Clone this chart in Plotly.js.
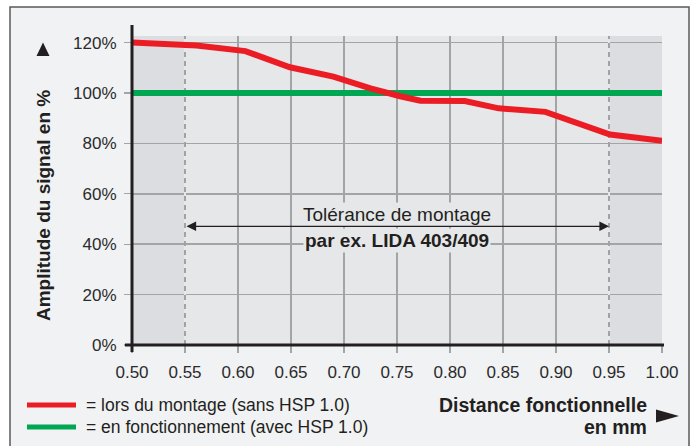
<!DOCTYPE html>
<html>
<head>
<meta charset="utf-8">
<script src="https://cdn.plot.ly/plotly-3.0.1.min.js"></script>
<style>
  html, body { margin: 0; padding: 0; background: #ffffff; }
  #chart { width: 694px; height: 446px; }
</style>
</head>
<body>
<div id="chart"></div>
<script>
// ---- Data ----
var distanceMontage = [0.50, 0.55, 0.561, 0.607, 0.649, 0.690, 0.725, 0.753, 0.772, 0.814, 0.846, 0.890, 0.951, 1.00];
var amplitudeMontage = [120.0, 119.4, 118.8, 116.6, 110.2, 106.5, 101.8, 98.7, 96.9, 96.8, 93.9, 92.5, 83.5, 81.0];
var distanceFonction = [0.50, 1.00];
var amplitudeFonction = [100, 100];
var xTickValues = [0.50, 0.55, 0.60, 0.65, 0.70, 0.75, 0.80, 0.85, 0.90, 0.95, 1.00];
var yTickValues = [0, 20, 40, 60, 80, 100, 120];
var yTickLabels = ["0%", "20%", "40%", "60%", "80%", "100%", "120%"];
var toleranceRange = [0.55, 0.95];
var seriesNames = ["= lors du montage (sans HSP 1.0)", "= en fonctionnement (avec HSP 1.0)"];
var toleranceLabel = "Tolérance de montage";
var toleranceExample = "par ex. LIDA 403/409";
var yTitle = "Amplitude du signal en %";
var xTitleLines = ["Distance fonctionnelle", "en mm"];

var RED = "#ec1c24", GREEN = "#00a651", INK = "#231f20", GRID = "#a3a4a6";
var FONT = "Liberation Sans, Arial, sans-serif";
var yMax = 122.6;

var traces = [
  { x: distanceFonction, y: amplitudeFonction, mode: "lines", name: seriesNames[1],
    line: { color: GREEN, width: 6 }, showlegend: false, hoverinfo: "skip" },
  { x: distanceMontage, y: amplitudeMontage, mode: "lines", name: seriesNames[0],
    line: { color: RED, width: 6 }, showlegend: false, hoverinfo: "skip" }
];

// plot area in pixels: x 132..662, y 36..345
function px(xp) { return (xp - 132) / 530; }
function py(yp) { return (345 - yp) / 309; }

var shapes = [
  // outer frame
  { type: "rect", xref: "paper", yref: "paper", x0: px(10), x1: px(689), y0: py(460), y1: py(7),
    fillcolor: "#f1f2f4", line: { color: "#5a5a5a", width: 1.5 }, layer: "below" },
  // plot background
  { type: "rect", xref: "paper", yref: "paper", x0: 0, x1: 1, y0: 0, y1: 1,
    fillcolor: "#e6e7e9", line: { width: 0 }, layer: "below" },
  // shaded zones outside the tolerance
  { type: "rect", xref: "x", yref: "paper", x0: xTickValues[0], x1: toleranceRange[0], y0: 0, y1: 1,
    fillcolor: "#dcdde0", line: { width: 0 }, layer: "below" },
  { type: "rect", xref: "x", yref: "paper", x0: toleranceRange[1], x1: xTickValues[xTickValues.length - 1], y0: 0, y1: 1,
    fillcolor: "#dcdde0", line: { width: 0 }, layer: "below" }
];
toleranceRange.forEach(function (t) {
  shapes.push({ type: "line", xref: "x", yref: "y", x0: t, x1: t, y0: 0, y1: yMax,
    line: { color: "#ffffff", width: 1.5 }, layer: "between" });
  shapes.push({ type: "line", xref: "x", yref: "y", x0: t, x1: t, y0: 0, y1: yMax,
    line: { color: "#7d7e80", width: 1.3, dash: "5px,4px" }, layer: "between" });
});
// heavy axes
shapes.push({ type: "line", xref: "paper", yref: "paper", x0: 0, x1: 0, y0: py(352), y1: py(25),
  line: { color: INK, width: 3 }, layer: "above" });
shapes.push({ type: "line", xref: "paper", yref: "paper", x0: px(125), x1: px(664), y0: 0, y1: 0,
  line: { color: INK, width: 3 }, layer: "above" });
// y-title arrow
shapes.push({ type: "path", xref: "paper", yref: "paper",
  path: "M" + px(36.5) + "," + py(56) + " L" + px(49.5) + "," + py(56) + " L" + px(43) + "," + py(42.5) + " Z",
  fillcolor: INK, line: { width: 0 }, layer: "above" });
// x-title arrow
shapes.push({ type: "path", xref: "paper", yref: "paper",
  path: "M" + px(656) + "," + py(409.5) + " L" + px(656) + "," + py(422.5) + " L" + px(679) + "," + py(416) + " Z",
  fillcolor: INK, line: { width: 0 }, layer: "above" });
// legend lines
shapes.push({ type: "line", xref: "paper", yref: "paper", x0: px(27), x1: px(76), y0: py(405), y1: py(405),
  line: { color: RED, width: 5 }, layer: "above" });
shapes.push({ type: "line", xref: "paper", yref: "paper", x0: px(27), x1: px(76), y0: py(427), y1: py(427),
  line: { color: GREEN, width: 5 }, layer: "above" });

var annotations = [
  { xref: "x", yref: "y", x: (toleranceRange[0] + toleranceRange[1]) / 2, y: 51.8, text: toleranceLabel,
    xanchor: "center", yanchor: "middle",
    showarrow: false, font: { family: FONT, size: 19, color: INK }, bgcolor: "#e6e7e9", borderpad: 1 },
  { xref: "x", yref: "y", x: (toleranceRange[0] + toleranceRange[1]) / 2, y: 41.6, text: "<b>" + toleranceExample + "</b>",
    xanchor: "center", yanchor: "middle",
    showarrow: false, font: { family: FONT, size: 19, color: INK }, bgcolor: "#e6e7e9", borderpad: 1 },
  { xref: "x", yref: "y", x: toleranceRange[1], y: 47.1, ax: toleranceRange[0], ay: 47.1,
    axref: "x", ayref: "y", text: "", showarrow: true, arrowside: "end+start",
    arrowhead: 2, arrowsize: 1.6, arrowwidth: 1.2, arrowcolor: INK, standoff: 0, startstandoff: 0 },
  { xref: "paper", yref: "paper", x: px(43), y: py(206), text: "<b>" + yTitle + "</b>", textangle: -90,
    xanchor: "center", yanchor: "middle",
    showarrow: false, font: { family: FONT, size: 19, color: INK } },
  { xref: "paper", yref: "paper", x: px(649), y: py(405), xanchor: "right", yanchor: "middle", text: "<b>" + xTitleLines[0] + "</b>",
    showarrow: false, font: { family: FONT, size: 19.5, color: INK } },
  { xref: "paper", yref: "paper", x: px(649), y: py(427), xanchor: "right", yanchor: "middle", text: "<b>" + xTitleLines[1] + "</b>",
    showarrow: false, font: { family: FONT, size: 19.5, color: INK } },
  { xref: "paper", yref: "paper", x: px(84), y: py(405), xanchor: "left", yanchor: "middle", text: seriesNames[0],
    showarrow: false, font: { family: FONT, size: 17.5, color: INK } },
  { xref: "paper", yref: "paper", x: px(84), y: py(427), xanchor: "left", yanchor: "middle", text: seriesNames[1],
    showarrow: false, font: { family: FONT, size: 17.5, color: INK } }
];

var layout = {
  width: 694, height: 446,
  margin: { l: 132, r: 32, t: 36, b: 101 },
  paper_bgcolor: "#ffffff",
  plot_bgcolor: "#e6e7e9",
  showlegend: false,
  xaxis: {
    range: [xTickValues[0], xTickValues[xTickValues.length - 1]],
    tickvals: xTickValues, tickformat: ".2f",
    showgrid: true, gridcolor: GRID, gridwidth: 1.5,
    zeroline: false, showline: false,
    ticks: "outside", ticklen: 7, tickwidth: 1.3, tickcolor: GRID,
    ticklabelstandoff: 5,
    tickfont: { family: FONT, size: 17, color: "#2b2b2b" }
  },
  yaxis: {
    range: [0, yMax],
    tickvals: yTickValues, ticktext: yTickLabels,
    showgrid: true, gridcolor: GRID, gridwidth: 1.5,
    zeroline: false, showline: false,
    ticks: "outside", ticklen: 7, tickwidth: 1.3, tickcolor: GRID,
    ticklabelstandoff: 4,
    tickfont: { family: FONT, size: 17, color: "#2b2b2b" }
  },
  shapes: shapes,
  annotations: annotations
};

Plotly.newPlot("chart", traces, layout, { staticPlot: true, displayModeBar: false });
</script>
</body>
</html>
